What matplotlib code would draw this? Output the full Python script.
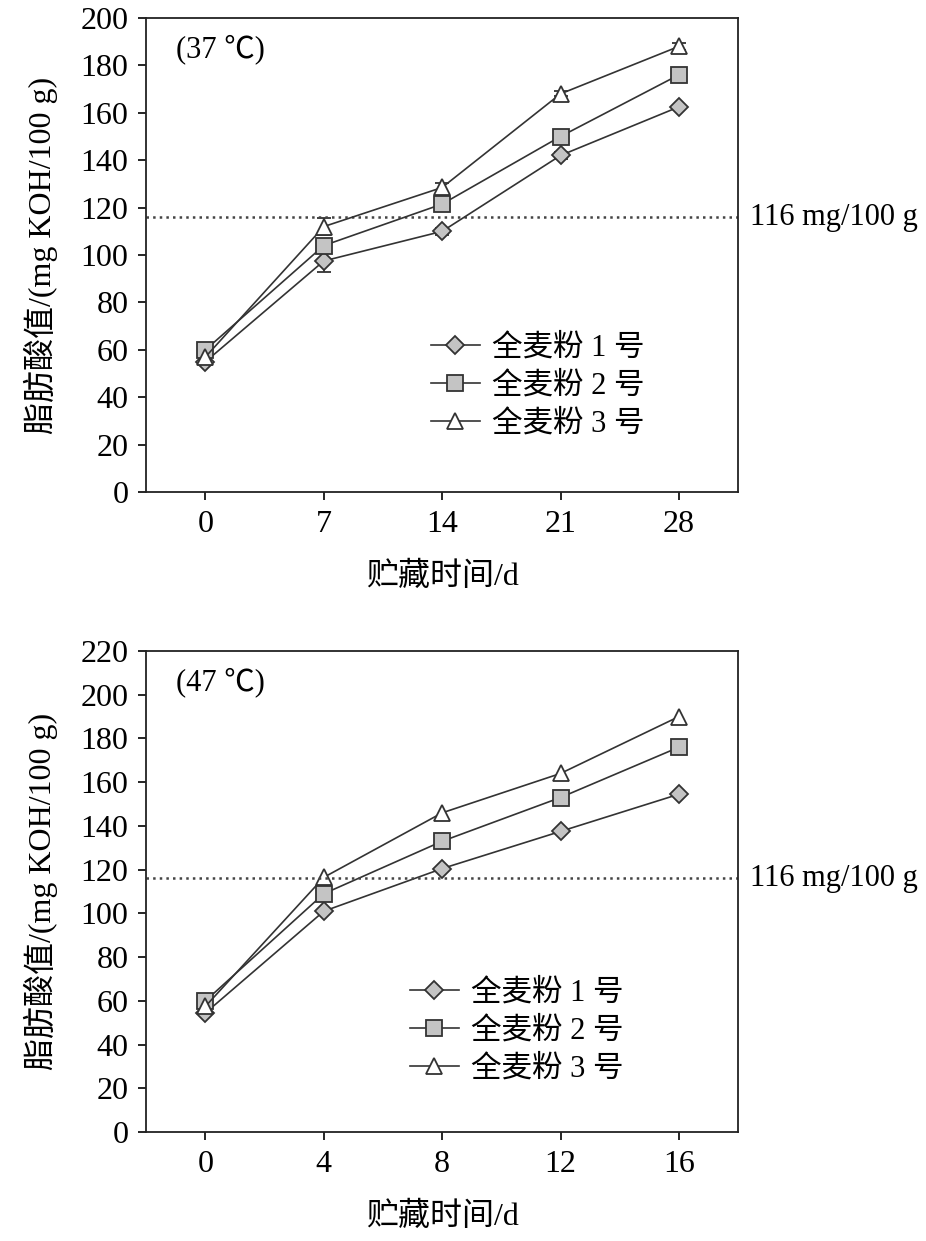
import matplotlib
matplotlib.use('Agg')
import matplotlib.pyplot as plt
import matplotlib.transforms as mtransforms
from matplotlib.lines import Line2D

FONT = ['Liberation Serif', 'Noto Sans CJK SC', 'DejaVu Sans']
plt.rcParams['font.family'] = FONT

# 37 C storage
days_37 = [0, 7, 14, 21, 28]
wf1_37 = [55, 97.5, 110, 142, 162.5]
wf2_37 = [60, 104, 121.5, 150, 176]
wf3_37 = [57, 112, 128.5, 168, 188]
err1_37 = [1.5, 4.5, 1.5, 1.5, 1.0]
err2_37 = [1.5, 2.5, 2.5, 1.5, 1.0]
err3_37 = [1.5, 3.5, 2.0, 1.0, 1.5]

# 47 C storage
days_47 = [0, 4, 8, 12, 16]
wf1_47 = [54.5, 101, 120.5, 137.5, 154.5]
wf2_47 = [60, 109, 133, 153, 176]
wf3_47 = [57.5, 116.5, 146, 164, 190]

limit = 116
labels = ['全麦粉 1 号', '全麦粉 2 号', '全麦粉 3 号']
styles = [dict(marker='D', mfc='#c4c4c4', ms=9.5),
          dict(marker='s', mfc='#c4c4c4', ms=11),
          dict(marker='^', mfc='white', ms=11)]

fig = plt.figure(figsize=(9.26, 12.41), dpi=100)


def panel(rect, x, series, errs, xlim, ylim, yticks, temp, leg_anchor):
    ax = fig.add_axes(rect)
    handles = []
    for i, y in enumerate(series):
        st = styles[i]
        if errs is not None:
            ax.errorbar(x, y, yerr=errs[i], color='#333333', lw=1.2,
                        capsize=5, capthick=1.2, mec='#333333', mew=1.3,
                        **st)
        else:
            ax.plot(x, y, color='#333333', lw=1.2, mec='#333333', mew=1.3,
                    **st)
        handles.append(Line2D([], [], color='#333333', lw=1.2,
                              mec='#333333', mew=1.3, **st))
    ax.axhline(limit, color='#444444', ls=':', lw=1.8)
    tr = mtransforms.blended_transform_factory(ax.transAxes, ax.transData)
    ax.text(1.02, limit, '116 mg/100 g', transform=tr, va='center',
            ha='left', fontsize=22)
    ax.text(0.05, 0.935, '(%s ℃)' % temp, transform=ax.transAxes,
            fontsize=22, va='center')
    ax.set_xlim(*xlim)
    ax.set_ylim(*ylim)
    ax.set_xticks(x)
    ax.set_yticks(yticks)
    ax.tick_params(direction='out', length=6, width=1.2, labelsize=23,
                   top=False, right=False, pad=7)
    for s in ax.spines.values():
        s.set_linewidth(1.3)
        s.set_color('#222222')
    ax.set_xlabel('贮藏时间/d', fontsize=23, labelpad=16)
    ax.set_ylabel('脂肪酸值/(mg KOH/100 g)', fontsize=23, labelpad=16)
    ax.legend(handles, labels, loc='upper left', bbox_to_anchor=leg_anchor,
              frameon=False, fontsize=22, handlelength=1.6, labelspacing=0.3,
              handletextpad=0.4, borderaxespad=0)
    return ax


panel([0.158, 0.6035, 0.639, 0.382], days_37, [wf1_37, wf2_37, wf3_37],
      [err1_37, err2_37, err3_37], (-3.5, 31.5), (0, 200),
      range(0, 201, 20), '37', (0.46, 0.36))
panel([0.158, 0.0878, 0.639, 0.3876], days_47, [wf1_47, wf2_47, wf3_47],
      None, (-2, 18), (0, 220), range(0, 221, 20), '47', (0.425, 0.345))

fig.savefig('out.png', dpi=100)
